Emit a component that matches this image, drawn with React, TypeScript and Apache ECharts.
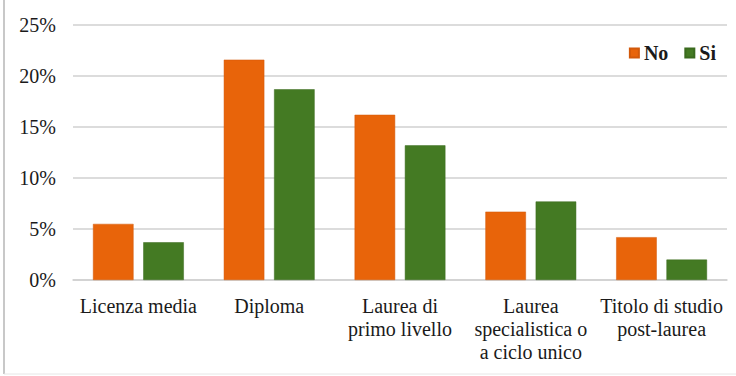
import React, { useEffect, useRef } from "react";
import * as echarts from "echarts";

const categories = [
  "Licenza media",
  "Diploma",
  "Laurea di\nprimo livello",
  "Laurea\nspecialistica o\na ciclo unico",
  "Titolo di studio\npost-laurea",
];
const seriesNames = ["No", "Si"];
const valuesNo = [5.5, 21.6, 16.2, 6.7, 4.2];
const valuesSi = [3.7, 18.7, 13.2, 7.7, 2.0];
const yTicks = [0, 5, 10, 15, 20, 25];

const ORANGE = "#E8640A";
const GREEN = "#447A23";
const FONT = "Liberation Serif";

export default function App() {
  const ref = useRef<HTMLDivElement>(null);

  useEffect(() => {
    if (!ref.current) return;
    const chart = echarts.init(ref.current, undefined, { renderer: "svg" });
    chart.setOption({
      animation: false,
      backgroundColor: "#ffffff",
      textStyle: { fontFamily: FONT, color: "#1a1a1a" },
      grid: { left: 73, right: 9, top: 25, bottom: 96, containLabel: false },
      legend: {
        data: seriesNames,
        right: 20,
        top: 43,
        padding: 0,
        itemWidth: 9,
        itemHeight: 9,
        itemGap: 16,
        icon: "rect",
        textStyle: {
          fontFamily: FONT,
          fontSize: 20,
          fontWeight: "bold",
          color: "#1a1a1a",
        },
      },
      xAxis: {
        type: "category",
        data: categories,
        axisLine: { lineStyle: { color: "#d0d0d0", width: 1.5 } },
        axisTick: { show: false },
        axisLabel: {
          interval: 0,
          margin: 14,
          fontFamily: FONT,
          fontSize: 20,
          lineHeight: 23,
          color: "#1a1a1a",
        },
      },
      yAxis: {
        type: "value",
        min: yTicks[0],
        max: yTicks[yTicks.length - 1],
        interval: 5,
        axisLine: { show: false },
        axisTick: { show: false },
        splitLine: { lineStyle: { color: "#d0d0d0", width: 1.5 } },
        axisLabel: {
          margin: 17,
          fontFamily: FONT,
          fontSize: 20,
          color: "#1a1a1a",
          formatter: (v: number) => `${v}%`,
        },
      },
      series: [
        {
          name: seriesNames[0],
          type: "bar",
          data: valuesNo,
          barWidth: "31%",
          barGap: "24%",
          itemStyle: { color: ORANGE, borderColor: "#d2590a", borderWidth: 0.5 },
        },
        {
          name: seriesNames[1],
          type: "bar",
          data: valuesSi,
          barWidth: "31%",
          barGap: "24%",
          itemStyle: { color: GREEN, borderColor: "#3a6a1e", borderWidth: 0.5 },
        },
      ],
      graphic: [
        {
          type: "line",
          shape: { x1: 4, y1: 0, x2: 4, y2: 374 },
          style: { stroke: "#c8c8c8", lineWidth: 2 },
          silent: true,
        },
        {
          type: "line",
          shape: { x1: 4, y1: 374, x2: 736, y2: 374 },
          style: { stroke: "#e6e6e6", lineWidth: 1 },
          silent: true,
        },
      ],
    });
    return () => chart.dispose();
  }, []);

  return (
    <div
      ref={ref}
      style={{ position: "fixed", left: 0, top: 0, width: 736, height: 376 }}
    />
  );
}
